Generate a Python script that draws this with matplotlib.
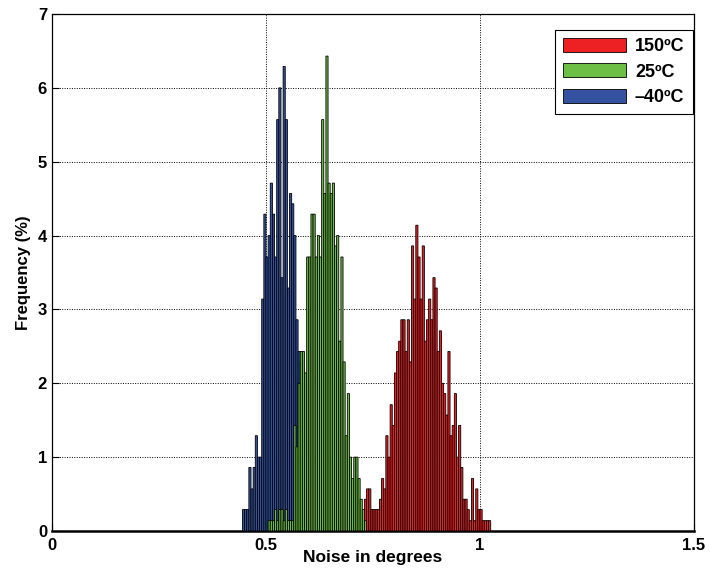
import numpy as np
import matplotlib
matplotlib.use("Agg")
import matplotlib.pyplot as plt

plt.rcParams['font.family'] = ['Liberation Sans', 'DejaVu Sans']
plt.rcParams['font.weight'] = 'bold'

# histogram bin width (degrees) and bin starts for each temperature
bin_width = 0.005
start_m40 = 0.445
start_25 = 0.505
start_150 = 0.730

# frequency (%) per bin
freq_m40 = [0.29, 0.29, 0.29, 0.86, 0.57, 0.86, 1.29, 1.0, 1.0, 3.14,
            4.29, 3.71, 4.0, 4.71, 4.29, 3.71, 5.57, 6.0, 3.43, 6.29,
            5.57, 3.29, 4.57, 4.43, 4.0, 2.86, 2.43, 2.29, 1.0, 0.57]
freq_25 = [0.14, 0.14, 0.14, 0.29, 0.14, 0.29, 0.29, 0.14, 0.29, 0.14,
           0.14, 0.14,
           1.43, 1.14, 2.0, 2.43, 2.43, 2.14, 3.71, 3.71, 4.29, 4.29,
           3.71, 4.0, 3.71, 5.57, 4.57, 6.43, 4.71, 4.57, 4.71, 3.86,
           4.0, 2.57, 3.71, 2.29, 1.29, 1.86, 1.0, 0.71, 1.0, 1.0,
           0.71, 0.43, 0.29, 0.14]
freq_150 = [0.43, 0.57, 0.57, 0.29, 0.29, 0.29, 0.29, 0.43, 0.71, 0.57,
            1.29, 1.0, 1.71, 1.43, 2.14, 2.43, 2.57, 2.86, 2.86, 2.43,
            2.86, 2.29, 3.86, 3.14, 4.14, 3.71, 3.14, 3.86, 2.57, 2.86,
            3.14, 2.86, 3.43, 3.29, 2.43, 2.71, 2.0, 1.86, 1.57, 2.43,
            1.29, 1.43, 1.86, 1.0, 1.43, 0.86, 0.43, 0.43, 0.29, 0.14,
            0.71, 0.14, 0.57, 0.29, 0.29, 0.14, 0.14, 0.14, 0.14]

labels = ['150ºC', '25ºC', '–40ºC']
colors = ['#ED2024', '#6DBE45', '#3452A0']

fig = plt.figure(figsize=(7.10, 5.69), dpi=100)
ax = fig.add_axes([0.0732, 0.0668, 0.9043, 0.9086])

series = [(start_150, freq_150), (start_m40, freq_m40), (start_25, freq_25)]
order = [0, 2, 1]
for idx, (start, freq) in zip(order, series):
    x = start + bin_width * np.arange(len(freq))
    ax.bar(x, freq, width=bin_width, align='edge', color=colors[idx],
           edgecolor='black', linewidth=0.6, label=labels[idx], zorder=3,
           snap=False)

ax.set_xlim(0, 1.5)
ax.set_ylim(0, 7)
ax.set_xticks([0, 0.5, 1, 1.5])
ax.set_xticklabels(['0', '0.5', '1', '1.5'])
ax.set_yticks(range(8))
ax.tick_params(direction='in', labelsize=12, length=5, width=0.8)
ax.tick_params(axis='x', pad=5)
for lab in ax.get_xticklabels() + ax.get_yticklabels():
    lab.set_fontweight('bold')

ax.grid(True, linestyle=(0, (1, 1.5)), color='black', linewidth=0.7, zorder=0)
for s in ax.spines.values():
    s.set_linewidth(0.9)
ax.spines['bottom'].set_linewidth(1.8)

ax.set_xlabel('Noise in degrees', fontsize=12.5, fontweight='bold', labelpad=-2)
ax.set_ylabel('Frequency (%)', fontsize=12, fontweight='bold', labelpad=5)

handles, labs = ax.get_legend_handles_labels()
hmap = dict(zip(labs, handles))
leg = ax.legend([hmap[l] for l in labels], labels, loc='upper right',
                bbox_to_anchor=(0.998, 0.969), borderaxespad=0,
                fontsize=13, handlelength=3.5, handleheight=0.8,
                fancybox=False, edgecolor='black', framealpha=1,
                labelspacing=0.45, handletextpad=0.5, borderpad=0.45)
leg.get_frame().set_linewidth(0.8)
for t in leg.get_texts():
    t.set_fontweight('bold')

fig.savefig('out.png', dpi=100)
